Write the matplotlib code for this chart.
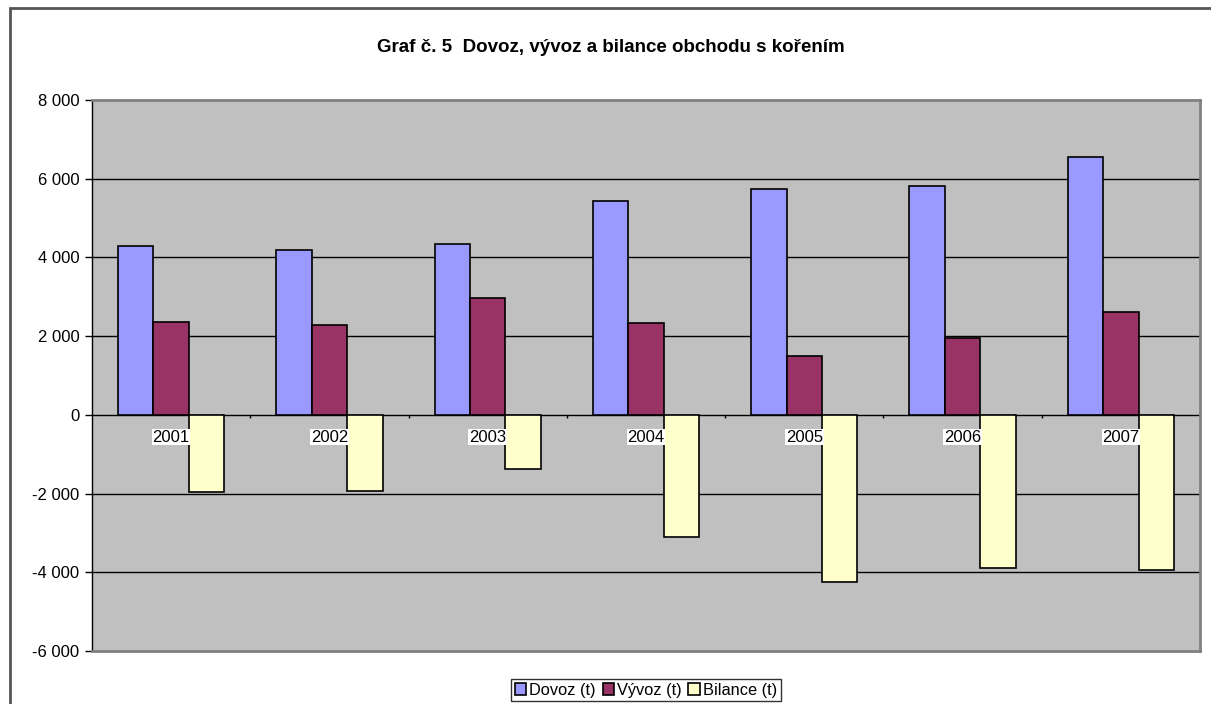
"""Dovoz, vývoz a bilance obchodu s kořením (2001-2007)."""

import matplotlib

matplotlib.use("Agg")
import matplotlib.pyplot as plt
import numpy as np
from matplotlib.patches import Rectangle

years = ["2001", "2002", "2003", "2004", "2005", "2006", "2007"]
dovoz = [4280, 4180, 4330, 5430, 5730, 5810, 6550]
vyvoz = [2370, 2290, 2980, 2340, 1500, 1960, 2620]
bilance = [-1960, -1930, -1370, -3100, -4250, -3890, -3940]
series_names = ["Dovoz (t)", "Vývoz (t)", "Bilance (t)"]
series_colors = ["#9999FF", "#993366", "#FFFFCC"]

plt.rcParams["font.family"] = ["Liberation Sans", "DejaVu Sans"]

fig = plt.figure(figsize=(12.11, 7.04), dpi=100)
ax = fig.add_axes([92 / 1211, 53 / 704, 1108 / 1211, 551 / 704])
ax.set_facecolor("#C0C0C0")

x = np.arange(len(years))
width = 0.224
handles = []
for k, (vals, name, color) in enumerate(zip([dovoz, vyvoz, bilance], series_names, series_colors)):
    h = ax.bar(x + (k - 1) * width, vals, width, color=color, edgecolor="black",
               linewidth=1.2, label=name, zorder=3)
    handles.append(h)

ax.set_xlim(-0.5, len(years) - 0.5)
ax.set_ylim(-6000, 8000)
yticks = np.arange(-6000, 8001, 2000)
ax.set_yticks(yticks)
ax.set_yticklabels([f"{v:,}".replace(",", " ") for v in yticks], fontsize=12)
ax.tick_params(axis="y", direction="out", length=5, width=1, pad=4)
ax.set_xticks([])
for v in yticks[1:-1]:
    ax.axhline(v, color="black", linewidth=1, zorder=1)

# category tick marks on the zero line and year labels
ax.vlines(x[:-1] + 0.5, -80, 0, color="black", linewidth=1, zorder=2)
for xi, year in zip(x, years):
    ax.text(xi, -380, year, ha="center", va="top", fontsize=12, zorder=4,
            bbox=dict(facecolor="white", edgecolor="none", pad=0.5))

for side in ["top", "right", "bottom"]:
    ax.spines[side].set_color("#808080")
    ax.spines[side].set_linewidth(2)
ax.spines["left"].set_color("black")
ax.spines["left"].set_linewidth(1)

fig.text(611 / 1211, 1 - 47 / 704, "Graf č. 5  Dovoz, vývoz a bilance obchodu s kořením",
         ha="center", va="center", fontsize=13.5, fontweight="bold")

leg = fig.legend(handles=handles, loc="center", bbox_to_anchor=(646 / 1211, 1 - 690 / 704),
                 ncol=3, fontsize=11.8, frameon=True, fancybox=False, handlelength=0.7,
                 handleheight=0.7, handletextpad=0.2, columnspacing=0.4, borderpad=0.2,
                 borderaxespad=0)
leg.get_frame().set_edgecolor("black")
leg.get_frame().set_linewidth(1)

fig.patches.append(Rectangle((10 / 1211, -0.2), 1.2, 1.2 - 8 / 704, transform=fig.transFigure,
                             fill=False, edgecolor="#555555", linewidth=2))

fig.savefig("out.png", dpi=100)
